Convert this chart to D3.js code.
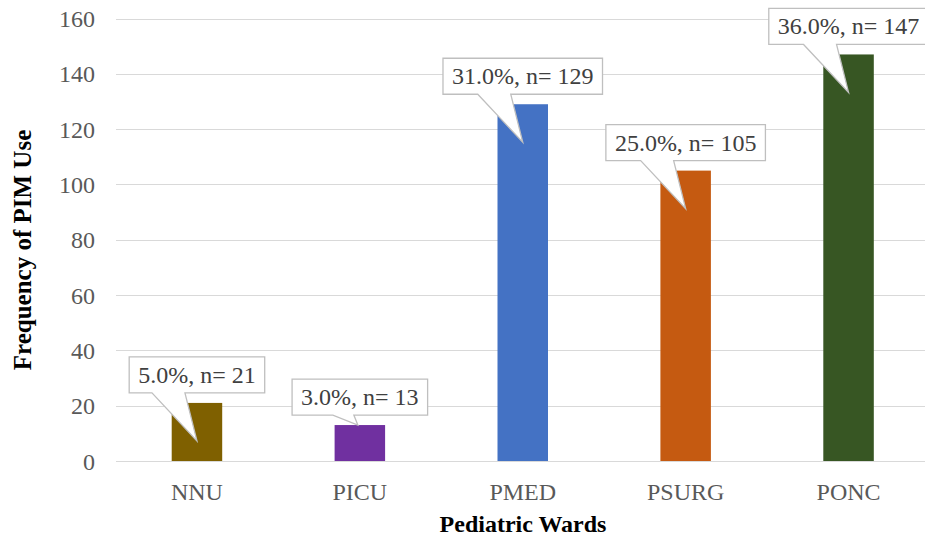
<!DOCTYPE html>
<html><head><meta charset="utf-8">
<script src="https://cdn.jsdelivr.net/npm/d3@7/dist/d3.min.js"></script>
<style>body{margin:0;background:#fff}svg{display:block}</style>
</head><body>
<svg id="chart" width="925" height="539"></svg>
<script>
const categories = ["NNU", "PICU", "PMED", "PSURG", "PONC"];
const values = [21, 13, 129, 105, 147];
const percents = ["5.0%", "3.0%", "31.0%", "25.0%", "36.0%"];
const colors = ["#7f6000", "#7030a0", "#4472c4", "#c55a11", "#375623"];
const yTicks = [0, 20, 40, 60, 80, 100, 120, 140, 160];

(function () {
const svg = d3.select("#chart");
const pLeft = 116, pRight = 930, pTop = 18.5, pBottom = 461;
const font = "Liberation Serif";

const x = d3.scaleBand().domain(categories).range([pLeft - 0.5, pRight]).paddingInner(0.69).paddingOuter(0.345);
const y = d3.scaleLinear().domain([0, 160]).range([pBottom, pTop]);

// gridlines
svg.append("g").selectAll("line").data(yTicks).join("line")
  .attr("x1", pLeft).attr("x2", 925)
  .attr("y1", d => Math.round(y(d)) + 0.5).attr("y2", d => Math.round(y(d)) + 0.5)
  .attr("stroke", "#d9d9d9").attr("stroke-width", 1);

// y axis labels
const yAxis = d3.axisLeft(y).tickValues(yTicks).tickSize(0).tickPadding(0);
const yg = svg.append("g").attr("transform", `translate(${pLeft - 21},0)`).call(yAxis)
  .attr("font-family", font).attr("font-size", 24);
yg.select(".domain").remove();
yg.selectAll("text").attr("font-family", font).attr("font-size", 24).attr("fill", "#595959").attr("dy", "0.34em");

// x axis labels
const xAxis = d3.axisBottom(x).tickSize(0).tickPadding(0);
const xg = svg.append("g").attr("transform", `translate(0,${pBottom + 22})`).call(xAxis)
  .attr("font-family", font).attr("font-size", 24);
xg.select(".domain").remove();
xg.selectAll("text").attr("font-family", font).attr("font-size", 24).attr("fill", "#595959").attr("dy", "0.71em");

// bars
svg.append("g").selectAll("rect").data(categories).join("rect")
  .attr("x", d => x(d)).attr("width", x.bandwidth())
  .attr("y", (d, i) => y(values[i])).attr("height", (d, i) => y(0) - y(values[i]))
  .attr("fill", (d, i) => colors[i]);

// callouts
const cg = svg.append("g").attr("font-family", font);
categories.forEach((c, i) => {
  const cx = x(c) + x.bandwidth() / 2;
  const barTop = y(values[i]);
  const h = y(0) - barTop;
  const label = `${percents[i]}, n= ${values[i]}`;
  const g = cg.append("g");
  const path = g.append("path");
  const t = g.append("text").text(label)
    .attr("font-family", font).attr("font-size", 24).attr("fill", "#404040")
    .attr("text-anchor", "middle");
  const tw = t.node().getComputedTextLength();
  const bw = tw + 18, bh = 36;
  const bx = cx - bw / 2, by = barTop - 10 - bh;
  const tall = h > 45;
  const tipX = tall ? cx : cx - 2;
  const tipY = tall ? barTop + 38 : barTop;
  const b1 = tall ? cx - 45 : cx - 27;
  const b2 = tall ? cx - 12 : cx - 6;
  const yb = by + bh;
  path.attr("d", `M${bx},${by}H${bx + bw}V${yb}H${b2}L${tipX},${tipY}L${b1},${yb}H${bx}Z`)
    .attr("fill", "#fff").attr("stroke", "#bfbfbf").attr("stroke-width", 1.3);
  t.attr("x", cx).attr("y", yb - 10);
});

// axis titles
svg.append("text").text("Frequency of PIM Use")
  .attr("transform", "translate(31,250) rotate(-90)")
  .attr("text-anchor", "middle").attr("font-family", font).attr("font-size", 25)
  .attr("font-weight", "bold").attr("fill", "#000");
svg.append("text").text("Pediatric Wards")
  .attr("x", (pLeft + pRight) / 2).attr("y", 532)
  .attr("text-anchor", "middle").attr("font-family", font).attr("font-size", 24)
  .attr("font-weight", "bold").attr("fill", "#000");
})();
</script>
</body></html>
